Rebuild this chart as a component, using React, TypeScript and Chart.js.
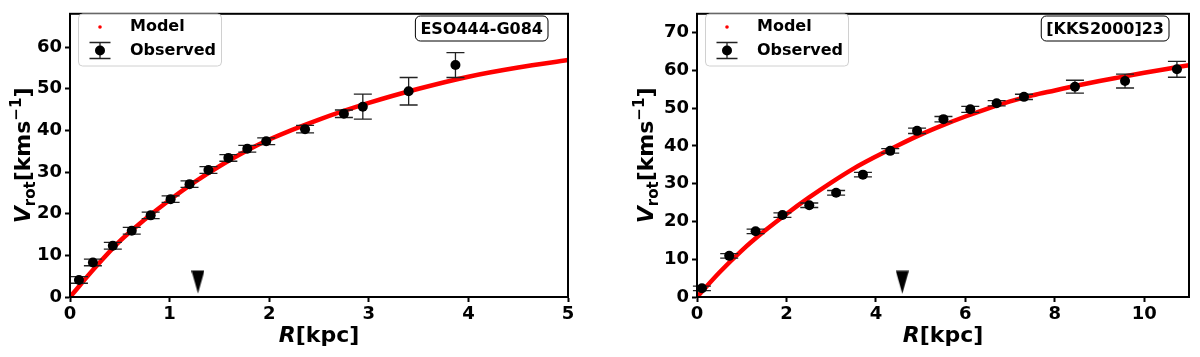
import React, { useEffect, useRef } from "react";
import { Chart, registerables } from "chart.js";
Chart.register(...registerables);

// ---------- Data: panel 1 (ESO444-G084) ----------
const modelR1 = [0, 0.25, 0.5, 0.75, 1, 1.25, 1.5, 1.75, 2, 2.5, 3, 3.5, 4, 4.5, 5];
const modelV1 = [0, 7.0, 13.4, 18.6, 23.3, 27.6, 31.4, 34.8, 37.8, 42.6, 46.6, 50.0, 52.9, 55.1, 56.9];
const obsR1 = [0.09, 0.23, 0.43, 0.62, 0.81, 1.01, 1.2, 1.39, 1.59, 1.78, 1.97, 2.36, 2.75, 2.94, 3.4, 3.87];
const obsV1 = [4.1, 8.3, 12.3, 15.9, 19.6, 23.5, 27.1, 30.5, 33.4, 35.6, 37.4, 40.3, 44.0, 45.7, 49.4, 55.7];
const errV1 = [0.8, 0.8, 0.8, 0.8, 0.8, 0.8, 0.8, 0.8, 0.8, 0.8, 0.8, 0.9, 0.9, 3.0, 3.3, 3.0];
const arrowR1 = [1.285];
const arrowV1 = [3.6];
const xTicks1 = [0, 1, 2, 3, 4, 5];
const yTicks1 = [0, 10, 20, 30, 40, 50, 60];
const name1 = "ESO444-G084";

// ---------- Data: panel 2 ([KKS2000]23) ----------
const modelR2 = [0, 0.5, 1, 1.5, 2, 2.5, 3, 3.5, 4, 4.5, 5, 5.5, 6, 6.5, 7, 7.5, 8, 8.5, 9, 9.5, 10, 10.5, 11];
const modelV2 = [0, 6.5, 12.3, 17.4, 22.0, 26.3, 30.3, 34.0, 37.2, 40.2, 43.0, 45.5, 47.8, 49.9, 51.8, 53.4, 54.7, 56.0, 57.2, 58.3, 59.4, 60.4, 61.4];
const obsR2 = [0.11, 0.72, 1.31, 1.91, 2.51, 3.11, 3.71, 4.32, 4.92, 5.51, 6.11, 6.7, 7.31, 8.45, 9.57, 10.73];
const obsV2 = [2.3, 10.9, 17.4, 21.7, 24.3, 27.6, 32.4, 38.7, 44.0, 47.1, 49.7, 51.3, 53.0, 55.7, 57.2, 60.3];
const errV2 = [0.6, 0.6, 0.6, 0.6, 0.6, 0.6, 0.6, 0.6, 0.7, 0.7, 0.8, 0.7, 0.7, 1.7, 1.85, 2.1];
const arrowR2 = [4.59];
const arrowV2 = [3.9];
const xTicks2 = [0, 2, 4, 6, 8, 10];
const yTicks2 = [0, 10, 20, 30, 40, 50, 60, 70];
const name2 = "[KKS2000]23";

const FAM = "'DejaVu Sans', sans-serif";

type Panel = {
  modelR: number[]; modelV: number[];
  obsR: number[]; obsV: number[]; errV: number[];
  arrowR: number[]; arrowV: number[];
  xTicks: number[]; yTicks: number[];
  name: string;
  xMax: number; yMax: number;
  yWidth: number; padRight: number; yTitleOffset: number;
};

const panels: Panel[] = [
  { modelR: modelR1, modelV: modelV1, obsR: obsR1, obsV: obsV1, errV: errV1, arrowR: arrowR1, arrowV: arrowV1,
    xTicks: xTicks1, yTicks: yTicks1, name: name1, xMax: 5, yMax: 68, yWidth: 70, padRight: 32, yTitleOffset: 40 },
  { modelR: modelR2, modelV: modelV2, obsR: obsR2, obsV: obsV2, errV: errV2, arrowR: arrowR2, arrowV: arrowV2,
    xTicks: xTicks2, yTicks: yTicks2, name: name2, xMax: 11, yMax: 75, yWidth: 97, padRight: 7, yTitleOffset: 44 },
];

type Seg = { t: string; font: string; dy: number };
function richWidth(ctx: CanvasRenderingContext2D, segs: Seg[]) {
  let w = 0;
  for (const s of segs) { ctx.font = s.font; w += ctx.measureText(s.t).width; }
  return w;
}
function drawRich(ctx: CanvasRenderingContext2D, segs: Seg[], x: number, y: number) {
  let cx = x;
  for (const s of segs) {
    ctx.font = s.font;
    ctx.fillText(s.t, cx, y + s.dy);
    cx += ctx.measureText(s.t).width;
  }
}
function roundRect(ctx: CanvasRenderingContext2D, x: number, y: number, w: number, h: number, r: number) {
  ctx.beginPath();
  ctx.moveTo(x + r, y);
  ctx.lineTo(x + w - r, y);
  ctx.arcTo(x + w, y, x + w, y + r, r);
  ctx.lineTo(x + w, y + h - r);
  ctx.arcTo(x + w, y + h, x + w - r, y + h, r);
  ctx.lineTo(x + r, y + h);
  ctx.arcTo(x, y + h, x, y + h - r, r);
  ctx.lineTo(x, y + r);
  ctx.arcTo(x, y, x + r, y, r);
  ctx.closePath();
}

const errBarPlugin = {
  id: "errbars",
  beforeDatasetDraw(chart: any, args: any, opts: any) {
    if (args.index !== 1) return;
    const ctx: CanvasRenderingContext2D = chart.ctx;
    const ds = chart.data.datasets[1];
    const errs: number[] = opts.errors;
    const xs = chart.scales.x, ys = chart.scales.y;
    ctx.save();
    ctx.strokeStyle = "#222";
    ctx.lineWidth = 1.3;
    ds.data.forEach((p: any, i: number) => {
      const px = xs.getPixelForValue(p.x);
      const y1 = ys.getPixelForValue(p.y - errs[i]);
      const y2 = ys.getPixelForValue(p.y + errs[i]);
      ctx.beginPath();
      ctx.moveTo(px, y1); ctx.lineTo(px, y2);
      ctx.moveTo(px - 9, y1); ctx.lineTo(px + 9, y1);
      ctx.moveTo(px - 9, y2); ctx.lineTo(px + 9, y2);
      ctx.stroke();
    });
    ctx.restore();
  },
};

const decorPlugin = {
  id: "decor",
  afterDraw(chart: any, _args: any, opts: any) {
    const ctx: CanvasRenderingContext2D = chart.ctx;
    const a = chart.chartArea;
    ctx.save();
    // frame (top/right spines)
    ctx.strokeStyle = "#000";
    ctx.lineWidth = 2;
    ctx.strokeRect(a.left, a.top, a.right - a.left, a.bottom - a.top);

    // legend
    const lx = a.left + 8.5, ly = 14, lw = 143, lh = 52;
    roundRect(ctx, lx, ly, lw, lh, 4);
    ctx.fillStyle = "rgba(255,255,255,0.8)";
    ctx.fill();
    ctx.strokeStyle = "#d0d0d0";
    ctx.lineWidth = 1;
    ctx.stroke();
    const mx = a.left + 30;
    ctx.fillStyle = "#ff0000";
    ctx.beginPath(); ctx.arc(mx, 27, 1.8, 0, Math.PI * 2); ctx.fill();
    ctx.strokeStyle = "#222";
    ctx.lineWidth = 1.3;
    ctx.beginPath();
    ctx.moveTo(mx, 42.5); ctx.lineTo(mx, 58.5);
    ctx.moveTo(mx - 10.5, 42.5); ctx.lineTo(mx + 10.5, 42.5);
    ctx.moveTo(mx - 10.5, 58.5); ctx.lineTo(mx + 10.5, 58.5);
    ctx.stroke();
    ctx.fillStyle = "#000";
    ctx.beginPath(); ctx.arc(mx, 50.5, 5, 0, Math.PI * 2); ctx.fill();
    ctx.font = `bold 16px ${FAM}`;
    ctx.textBaseline = "middle";
    ctx.textAlign = "left";
    ctx.fillText("Model", a.left + 60, 27);
    ctx.fillText("Observed", a.left + 60, 51);

    // name box
    ctx.font = `bold 16px ${FAM}`;
    const tw = ctx.measureText(opts.name).width;
    const bw = tw + 10, bh = 25;
    const bx = a.right - 20 - bw, by = 16;
    roundRect(ctx, bx, by, bw, bh, 5);
    ctx.fillStyle = "#fff";
    ctx.fill();
    ctx.strokeStyle = "#000";
    ctx.lineWidth = 1;
    ctx.stroke();
    ctx.fillStyle = "#000";
    ctx.textAlign = "center";
    ctx.fillText(opts.name, bx + bw / 2, by + bh / 2 + 1);

    // x title
    ctx.textAlign = "left";
    ctx.textBaseline = "alphabetic";
    const big = `bold 22px ${FAM}`;
    const bigI = `italic bold 22px ${FAM}`;
    const small = `bold 15px ${FAM}`;
    const xs: Seg[] = [{ t: "R", font: bigI, dy: 0 }, { t: "[kpc]", font: big, dy: 0 }];
    const xw = richWidth(ctx, xs);
    drawRich(ctx, xs, (a.left + a.right) / 2 - xw / 2, 342);

    // y title
    const ysg: Seg[] = [
      { t: "V", font: bigI, dy: 0 },
      { t: "rot", font: small, dy: 5 },
      { t: "[kms", font: big, dy: 0 },
      { t: "\u22121", font: small, dy: -9 },
      { t: "]", font: big, dy: 0 },
    ];
    const yw = richWidth(ctx, ysg);
    ctx.translate(a.left - opts.yTitleOffset, (a.top + a.bottom) / 2);
    ctx.rotate(-Math.PI / 2);
    drawRich(ctx, ysg, -yw / 2, 0);
    ctx.restore();
  },
};

function makeArrow(): HTMLCanvasElement {
  const c = document.createElement("canvas");
  c.width = 13; c.height = 24;
  const g = c.getContext("2d")!;
  g.fillStyle = "#000";
  g.beginPath();
  g.moveTo(0, 0.5); g.lineTo(13, 0.5); g.lineTo(6.5, 23.5); g.closePath();
  g.fill();
  return c;
}

function PanelChart({ p, left }: { p: Panel; left: number }) {
  const ref = useRef<HTMLCanvasElement>(null);
  useEffect(() => {
    if (!ref.current) return;
    const arrow = makeArrow();
    const tickFont = { family: FAM, size: 18, weight: "bold" as const };
    const chart = new Chart(ref.current, {
      type: "scatter",
      data: {
        datasets: [
          {
            label: "Model",
            data: p.modelR.map((x, i) => ({ x, y: p.modelV[i] })),
            showLine: true,
            borderColor: "#ff0000",
            backgroundColor: "#ff0000",
            borderWidth: 4.5,
            pointRadius: 0,
            cubicInterpolationMode: "monotone",
            order: 3,
          } as any,
          {
            label: "Observed",
            data: p.obsR.map((x, i) => ({ x, y: p.obsV[i] })),
            pointRadius: 5,
            pointBackgroundColor: "#000",
            pointBorderWidth: 0,
            backgroundColor: "#000",
            borderColor: "#000",
            order: 1,
          },
          {
            label: "arrow",
            data: p.arrowR.map((x, i) => ({ x, y: p.arrowV[i] })),
            pointStyle: arrow as any,
            pointRadius: 10,
            order: 2,
          },
        ],
      },
      options: {
        responsive: false,
        animation: false,
        events: [],
        layout: { padding: { left: 0, right: p.padRight, top: 6, bottom: 0 } },
        plugins: {
          legend: { display: false },
          tooltip: { enabled: false },
          errbars: { errors: p.errV },
          decor: { name: p.name, yTitleOffset: p.yTitleOffset },
        } as any,
        scales: {
          x: {
            type: "linear",
            min: 0,
            max: p.xMax,
            afterFit: (s: any) => { s.height = 60; },
            afterBuildTicks: (s: any) => { s.ticks = p.xTicks.map((v) => ({ value: v })); },
            ticks: { color: "#000", font: tickFont, padding: 2, maxRotation: 0, autoSkip: false },
            grid: { drawOnChartArea: false, drawTicks: true, tickLength: 5, tickWidth: 2, tickColor: "#000" },
            border: { display: true, color: "#000", width: 2 },
          },
          y: {
            type: "linear",
            min: 0,
            max: p.yMax,
            afterFit: (s: any) => { s.width = p.yWidth; },
            afterBuildTicks: (s: any) => { s.ticks = p.yTicks.map((v) => ({ value: v })); },
            ticks: { color: "#000", font: tickFont, padding: 3, autoSkip: false },
            grid: { drawOnChartArea: false, drawTicks: true, tickLength: 5, tickWidth: 2, tickColor: "#000" },
            border: { display: true, color: "#000", width: 2 },
          },
        },
      },
      plugins: [errBarPlugin, decorPlugin],
    });
    return () => chart.destroy();
  }, [p]);
  return (
    <canvas
      ref={ref}
      width={600}
      height={357}
      style={{ position: "absolute", left, top: 0, width: 600, height: 357, display: "block" }}
    />
  );
}

export default function App() {
  return (
    <div style={{ position: "absolute", left: 0, top: 0, width: 1200, height: 357, background: "#fff", overflow: "hidden" }}>
      <PanelChart p={panels[0]} left={0} />
      <PanelChart p={panels[1]} left={600} />
    </div>
  );
}
